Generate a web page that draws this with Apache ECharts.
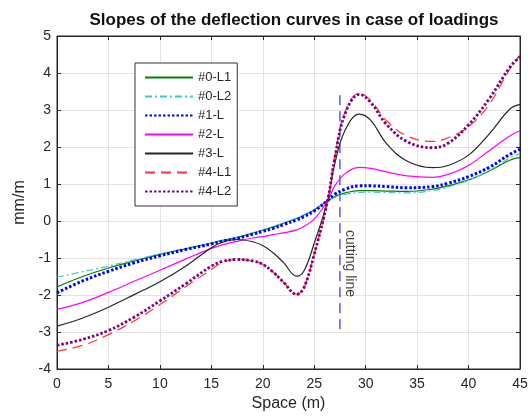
<!DOCTYPE html>
<html>
<head>
<meta charset="utf-8">
<script src="https://cdn.jsdelivr.net/npm/echarts@6/dist/echarts.min.js"></script>
<style>
  html, body { margin: 0; padding: 0; background: #fff; }
  #chart { width: 531px; height: 418px; }
</style>
</head>
<body>
<div id="chart"></div>
<script>
// sample positions along the span (m)
const xs = [0, 2.5, 5, 7.5, 10, 12.5, 15, 16, 17.5, 19, 20, 21, 22, 23.3, 24, 25, 26.3, 27, 28, 29.4, 30.5, 32, 34, 36.5, 38, 40, 42, 44, 45];

// slopes (mm/m)
const s0L1 = [-1.78, -1.5, -1.27, -1.08, -0.9, -0.75, -0.6, -0.53, -0.45, -0.33, -0.25, -0.16, -0.06, 0.07, 0.16, 0.3, 0.55, 0.66, 0.76, 0.82, 0.82, 0.81, 0.8, 0.86, 0.95, 1.11, 1.35, 1.64, 1.72];
const s0L2 = [-1.52, -1.37, -1.22, -1.05, -0.89, -0.74, -0.6, -0.53, -0.44, -0.32, -0.24, -0.15, -0.05, 0.08, 0.17, 0.31, 0.55, 0.64, 0.72, 0.77, 0.78, 0.77, 0.76, 0.82, 0.92, 1.1, 1.36, 1.7, 1.82];
const s1L  = [-1.94, -1.62, -1.36, -1.13, -0.94, -0.77, -0.62, -0.55, -0.47, -0.36, -0.28, -0.2, -0.1, 0.03, 0.12, 0.27, 0.55, 0.72, 0.86, 0.95, 0.95, 0.93, 0.9, 0.93, 1.02, 1.2, 1.45, 1.8, 1.94];
const s2L  = [-2.39, -2.2, -1.93, -1.63, -1.33, -1.03, -0.74, -0.65, -0.55, -0.46, -0.42, -0.37, -0.32, -0.24, -0.15, 0.05, 0.55, 0.95, 1.28, 1.45, 1.42, 1.33, 1.22, 1.18, 1.26, 1.5, 1.9, 2.3, 2.44];
const s3L  = [-2.84, -2.62, -2.33, -1.99, -1.64, -1.22, -0.72, -0.58, -0.5, -0.56, -0.66, -0.86, -1.12, -1.49, -1.35, -0.6, 0.55, 1.55, 2.45, 2.89, 2.72, 2.1, 1.62, 1.44, 1.5, 1.78, 2.35, 3.02, 3.15];
const s4L1 = [-3.52, -3.36, -3.07, -2.7, -2.26, -1.78, -1.31, -1.13, -1.04, -1.08, -1.17, -1.38, -1.65, -1.98, -1.8, -0.9, 0.55, 1.75, 2.95, 3.45, 3.25, 2.72, 2.3, 2.15, 2.25, 2.55, 3.15, 4.1, 4.49];
const s4L2 = [-3.36, -3.2, -2.96, -2.6, -2.16, -1.7, -1.22, -1.1, -1.04, -1.08, -1.17, -1.38, -1.65, -1.98, -1.8, -0.9, 0.55, 1.7, 2.9, 3.42, 3.2, 2.62, 2.15, 1.98, 2.1, 2.6, 3.3, 4.15, 4.44];

// cutting line position
const cutX = 27.5;
const cutY = [3.4, -3.0];
const cutLabelY = -1.15;

const names = ['#0-L1', '#0-L2', '#1-L', '#2-L', '#3-L', '#4-L1', '#4-L2'];

const pairs = ys => xs.map((x, i) => [x, ys[i]]);

const chart = echarts.init(document.getElementById('chart'));

function line(name, ys, color, width, type) {
    return {
        name: name,
        type: 'line',
        data: pairs(ys),
        smooth: 0.4,
        symbol: 'none',
        lineStyle: { color: color, width: width, type: type, cap: 'butt' },
        itemStyle: { color: color },
        z: 3
    };
}

const txt = '#262626';
const font = 'Liberation Sans, Arial, sans-serif';
const axisCol = '#262626';

const option = {
    animation: false,
    backgroundColor: '#fff',
    title: {
        text: 'Slopes of the deflection curves in case of loadings',
        left: 289, top: 7, textAlign: 'center',
        textStyle: { fontSize: 17, fontWeight: 'bold', color: '#111', fontFamily: font }
    },
    legend: {
        data: names,
        orient: 'vertical',
        left: 135, top: 63,
        itemWidth: 48, itemHeight: 10, itemGap: 6,
        padding: [8, 6, 8, 9],
        borderColor: '#333', borderWidth: 1,
        backgroundColor: '#fff',
        itemStyle: { opacity: 0 },
        textStyle: { fontSize: 13, color: txt, fontFamily: font }
    },
    grid: { left: 57, right: 11, top: 36, bottom: 49, show: true, borderColor: axisCol, borderWidth: 1 },
    xAxis: [{
        type: 'value', min: 0, max: 45, interval: 5,
        name: 'Space (m)', nameLocation: 'middle', nameGap: 27,
        nameTextStyle: { fontSize: 16, color: txt, fontFamily: font },
        axisLine: { onZero: false, lineStyle: { color: axisCol } },
        axisTick: { inside: true, length: 4, lineStyle: { color: axisCol } },
        axisLabel: { fontSize: 14, color: txt, fontFamily: font, margin: 8 },
        splitLine: { show: true, lineStyle: { color: '#e3e3e3' } }
    }, {
        type: 'value', min: 0, max: 45, interval: 5, position: 'top',
        axisLine: { onZero: false, lineStyle: { color: axisCol } },
        axisTick: { inside: true, length: 4, lineStyle: { color: axisCol } },
        axisLabel: { show: false }, splitLine: { show: false }
    }],
    yAxis: [{
        type: 'value', min: -4, max: 5, interval: 1,
        name: 'mm/m', nameLocation: 'middle', nameGap: 27,
        nameTextStyle: { fontSize: 16, color: txt, fontFamily: font },
        axisLine: { show: true, onZero: false, lineStyle: { color: axisCol } },
        axisTick: { show: true, inside: true, length: 4, lineStyle: { color: axisCol } },
        axisLabel: { fontSize: 14, color: txt, fontFamily: font, margin: 6 },
        splitLine: { show: true, lineStyle: { color: '#e3e3e3' } }
    }, {
        type: 'value', min: -4, max: 5, interval: 1, position: 'right',
        axisLine: { show: true, onZero: false, lineStyle: { color: axisCol } },
        axisTick: { show: true, inside: true, length: 4, lineStyle: { color: axisCol } },
        axisLabel: { show: false }, splitLine: { show: false }
    }],
    series: [
        line(names[0], s0L1, '#008000', 1.2, 'solid'),
        line(names[1], s0L2, '#3cc8c8', 1.2, [7, 3, 2, 3]),
        line(names[2], s1L, '#0000ff', 3, [2.5, 2]),
        line(names[3], s2L, '#ff00ff', 1.2, 'solid'),
        line(names[4], s3L, '#262626', 1.2, 'solid'),
        line(names[5], s4L1, '#ff3333', 1.2, [10, 6]),
        line(names[6], s4L2, '#800080', 2.8, [2.5, 2]),
        {
            name: 'cut',
            type: 'line',
            data: cutY.map(y => [cutX, y]),
            symbol: 'none',
            lineStyle: { color: '#0000ff', width: 1, type: [10, 6] },
            z: 2
        },
        {
            name: 'cutLabel',
            type: 'scatter',
            data: [[cutX, cutLabelY]],
            symbolSize: 0,
            label: {
                show: true, formatter: 'cutting line', position: 'right', distance: 10,
                rotate: -90, align: 'center', verticalAlign: 'middle',
                fontSize: 14, color: '#111', fontFamily: font
            }
        }
    ]
};

chart.setOption(option);
</script>
</body>
</html>
